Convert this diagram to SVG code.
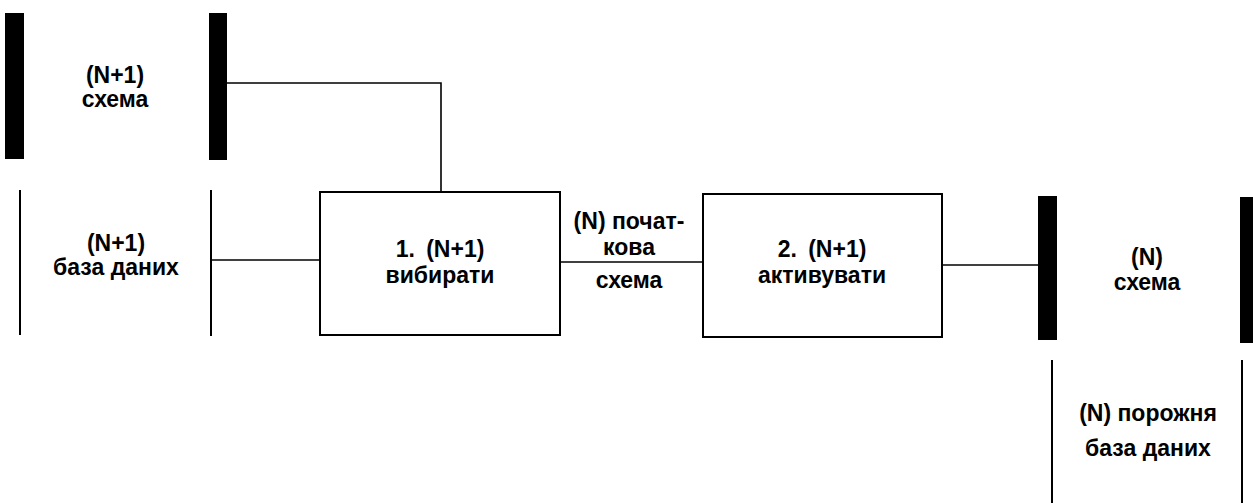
<svg xmlns="http://www.w3.org/2000/svg" width="1253" height="503" viewBox="0 0 1253 503">
<style>
.bar{fill:#000}
.thin{stroke:#000;stroke-width:2;fill:none}
.box{fill:#fff;stroke:#000;stroke-width:2}
.conn{stroke:#000;stroke-width:1.6;fill:none}
text{font-family:"Liberation Sans",Arial,sans-serif;font-size:23px;font-weight:bold;text-anchor:middle;fill:#000}
.ws{word-spacing:5px}
</style>
<rect width="1253" height="503" fill="#fff"/>
<g id="connectors">
<polyline class="conn" points="227,83 441,83 441,192"/>
<line class="conn" x1="211" y1="260" x2="320" y2="260"/>
<line class="conn" x1="560" y1="262" x2="703" y2="262"/>
<line class="conn" x1="942" y1="265" x2="1038" y2="265"/>
</g>
<g id="n1-schema">
<rect class="bar" x="5" y="13" width="19" height="146"/>
<rect class="bar" x="209" y="13" width="18" height="147"/>
<text x="115" y="83">(N+1)</text>
<text x="115" y="107">схема</text>
</g>
<g id="n1-database">
<line class="thin" x1="20" y1="190" x2="20" y2="335"/>
<line class="thin" x1="211" y1="190" x2="211" y2="336"/>
<text x="116" y="251">(N+1)</text>
<text x="116" y="275">база даних</text>
</g>
<g id="select">
<rect class="box" x="320" y="192" width="240" height="143"/>
<text class="ws" x="440" y="257">1. (N+1)</text>
<text x="440" y="283">вибирати</text>
</g>
<g id="initial-schema">
<text x="629" y="229">(N) почат-</text>
<text x="629" y="255">кова</text>
<text x="629" y="288">схема</text>
</g>
<g id="activate">
<rect class="box" x="703" y="194" width="239" height="143"/>
<text class="ws" x="822" y="257">2. (N+1)</text>
<text x="822" y="283">активувати</text>
</g>
<g id="n-schema">
<rect class="bar" x="1038" y="196" width="19" height="144"/>
<rect class="bar" x="1240" y="197" width="13" height="146"/>
<text x="1147" y="265">(N)</text>
<text x="1147" y="290">схема</text>
</g>
<g id="n-empty-database">
<line class="thin" x1="1052" y1="360" x2="1052" y2="503"/>
<line class="thin" x1="1242" y1="360" x2="1242" y2="503"/>
<text x="1148" y="421">(N) порожня</text>
<text x="1148" y="456">база даних</text>
</g>
</svg>
